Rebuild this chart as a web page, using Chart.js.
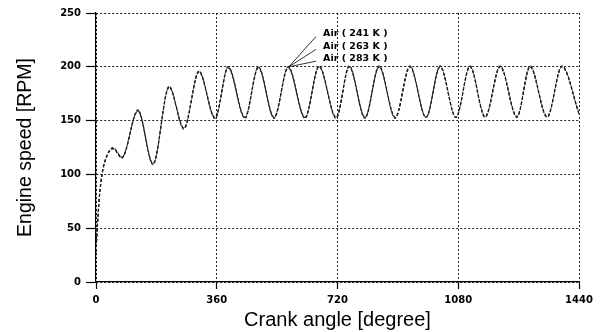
<!DOCTYPE html>
<html>
<head>
<meta charset="utf-8">
<script src="https://cdn.jsdelivr.net/npm/chart.js@4/dist/chart.umd.min.js"></script>
<style>
  html, body { margin: 0; padding: 0; background: #fff; }
  #wrap { width: 602px; height: 332px; }
</style>
</head>
<body>
<div id="wrap"><canvas id="speedChart"></canvas></div>
<script>
// crank angle [degree] of the read points
const crankAngle = [0, 4, 10, 18, 27, 51, 77, 125, 170, 218, 262, 307, 355, 394, 444, 484, 531, 573,
  623, 665, 716, 755, 802, 844, 892, 936, 984, 1026, 1073, 1115, 1160, 1205, 1255, 1294, 1345, 1389, 1440];

// engine speed [RPM] per intake air temperature
const speed241 = [28, 52, 80, 101, 113, 125, 116, 160, 110, 182, 143, 196, 153, 200, 153, 200, 153, 200,
  153, 201, 153, 201, 153, 201, 153, 201, 153, 201, 153, 201, 154, 201, 154, 201, 154, 201, 157];
const speed263 = [28, 51, 79, 100, 113, 124, 116, 159, 110, 181, 143, 196, 152, 200, 153, 200, 153, 200,
  153, 200, 153, 200, 153, 200, 153, 200, 153, 200, 153, 200, 153, 200, 153, 200, 153, 200, 157];
const speed283 = [28, 50, 78, 99, 112, 124, 115, 159, 109, 181, 142, 195, 152, 199, 152, 199, 152, 199,
  152, 200, 152, 200, 152, 200, 152, 200, 153, 200, 153, 200, 153, 200, 153, 200, 153, 200, 156];

const seriesLabels = ['Air ( 241 K )', 'Air ( 263 K )', 'Air ( 283 K )'];
const xTicks = [0, 360, 720, 1080, 1440];
const yTicks = [0, 50, 100, 150, 200, 250];

function toPoints(values) {
  return crankAngle.map((a, i) => ({ x: a, y: values[i] }));
}

// leader lines from a peak to the three labels
const labelPlugin = {
  id: 'airLabels',
  afterDatasetsDraw(chart) {
    const ctx = chart.ctx;
    const xs = chart.scales.x;
    const ys = chart.scales.y;
    const ox = xs.getPixelForValue(575);
    const oy = ys.getPixelForValue(200);
    const labelY = [231, 219, 208];
    ctx.save();
    ctx.strokeStyle = '#000';
    ctx.lineWidth = 0.8;
    ctx.fillStyle = '#000';
    ctx.font = 'bold 9.5px "DejaVu Sans"';
    ctx.textBaseline = 'middle';
    labelY.forEach((v, i) => {
      const ty = ys.getPixelForValue(v);
      const tx = xs.getPixelForValue(677);
      ctx.beginPath();
      ctx.moveTo(ox, oy);
      ctx.lineTo(tx - 7, ty + 3);
      ctx.stroke();
      ctx.fillText(seriesLabels[i], tx, ty);
    });
    ctx.restore();
  }
};

const allSeries = [speed241, speed263, speed283];

new Chart(document.getElementById('speedChart'), {
  type: 'line',
  data: {
    datasets: allSeries.map((s, i) => ({
      label: seriesLabels[i],
      data: toPoints(s),
      borderColor: '#222',
      borderWidth: 1.1,
      borderDash: [3, 2],
      pointRadius: 0,
      cubicInterpolationMode: 'monotone',
      fill: false
    }))
  },
  options: {
    responsive: true,
    maintainAspectRatio: false,
    animation: false,
    layout: { padding: { top: 13, right: 23, left: 0, bottom: 0 } },
    plugins: { legend: { display: false }, tooltip: { enabled: false } },
    scales: {
      x: {
        type: 'linear',
        min: 0,
        max: 1440,
        afterBuildTicks: axis => { axis.ticks = xTicks.map(v => ({ value: v })); },
        afterFit: axis => { axis.height = 50; },
        border: { color: '#000', width: 1.2, dash: [2, 2] },
        grid: {
          color: '#222',
          lineWidth: 1,
          tickLength: 7,
          tickColor: '#000',
          tickBorderDash: [],
          tickWidth: 1.2
        },
        ticks: {
          color: '#000',
          font: { family: 'DejaVu Sans', size: 10, weight: 'bold' },
          padding: 5,
          callback: v => String(v)
        },
        title: {
          display: true,
          text: 'Crank angle [degree]',
          color: '#000',
          font: { family: 'Liberation Sans', size: 20 },
          padding: { top: 0, bottom: 0 }
        }
      },
      y: {
        min: 0,
        max: 250,
        afterBuildTicks: axis => { axis.ticks = yTicks.map(v => ({ value: v })); },
        afterFit: axis => { axis.width = 96; },
        border: { color: '#000', width: 1.2, dash: [2, 2] },
        grid: {
          color: '#222',
          lineWidth: 1,
          tickLength: 10,
          tickColor: '#000',
          tickBorderDash: [],
          tickWidth: 1.2
        },
        ticks: {
          color: '#000',
          font: { family: 'DejaVu Sans', size: 10, weight: 'bold' },
          padding: 5
        },
        title: {
          display: true,
          text: 'Engine speed [RPM]',
          color: '#000',
          font: { family: 'Liberation Sans', size: 19.5 },
          padding: { top: 14, bottom: 0 }
        }
      }
    }
  },
  plugins: [labelPlugin]
});
</script>
</body>
</html>
